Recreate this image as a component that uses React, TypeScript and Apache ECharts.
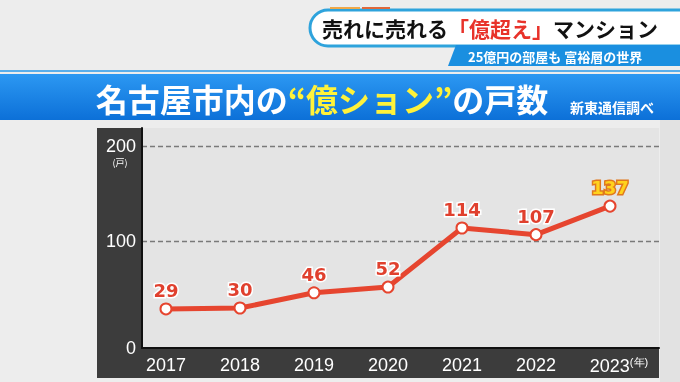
import React, { useEffect, useRef } from "react";
import * as echarts from "echarts";

const years = [2017, 2018, 2019, 2020, 2021, 2022, 2023];
const counts = [29, 30, 46, 52, 114, 107, 137];
const yTickValues = [100, 200];
const yMin = -12;
const yMax = 219;
const xMin = 2016.676;
const xMax = 2023.662;

const headline = "売れに売れる";
const headlineRed = "「億超え」";
const headlineTail = "マンション";
const subHeadline = "25億円の部屋も 富裕層の世界";
const titleA = "名古屋市内の";
const titleB = "“億ション”";
const titleC = "の戸数";
const source = "新東通信調べ";
const yUnit = "(戸)";
const xUnit = "(年)";

const CJK = '"Noto Sans CJK JP", "Noto Sans", sans-serif';

export default function App() {
  const ref = useRef<HTMLDivElement>(null);
  useEffect(() => {
    if (!ref.current) return;
    const chart = echarts.init(ref.current, null, { renderer: "svg" });
    const lastYear = years[years.length - 1];
    const data = years.map((y, i) => {
      const isLast = i === years.length - 1;
      return {
        value: [y, counts[i]],
        label: isLast
          ? { color: "#ffd21c", textBorderColor: "#e0781e", textBorderWidth: 3 }
          : undefined,
      };
    });
    chart.setOption({
      animation: false,
      graphic: [
        { type: "rect", shape: { x: 0, y: 0, width: 680, height: 382 }, style: { fill: "#ededed" }, z: -10 },
        { type: "rect", shape: { x: 660, y: 120, width: 20, height: 262 }, style: { fill: "#e2e2e2" }, z: -9 },
        // header
        {
          type: "rect",
          shape: { x: 310, y: 10, width: 390, height: 36, r: 18 },
          style: { fill: "#ffffff", stroke: "#2ea3dc", lineWidth: 3 },
          z: 1,
        },
        { type: "line", shape: { x1: 330, y1: 8, x2: 360, y2: 8 }, style: { stroke: "#f0a848", lineWidth: 2 }, z: 2 },
        { type: "line", shape: { x1: 362, y1: 8, x2: 390, y2: 8 }, style: { stroke: "#e0683a", lineWidth: 2 }, z: 2 },
        {
          type: "text",
          x: 322,
          y: 28,
          style: {
            text: `{k|${headline}}{r|${headlineRed}}{k|${headlineTail}}`,
            verticalAlign: "middle",
            rich: {
              k: { fontSize: 21, fontWeight: "bold", fill: "#111111", fontFamily: CJK },
              r: { fontSize: 21, fontWeight: "bold", fill: "#e8322a", fontFamily: CJK },
            },
          },
          z: 3,
        },
        {
          type: "polygon",
          shape: { points: [[456, 45], [680, 45], [680, 66], [448, 66]] },
          style: { fill: "#1a8fe0" },
          z: 2,
        },
        {
          type: "text",
          x: 468,
          y: 56,
          style: { text: subHeadline, fontSize: 13, fontWeight: "bold", fill: "#ffffff", fontFamily: CJK, verticalAlign: "middle" },
          z: 3,
        },
        // title bar
        { type: "rect", shape: { x: 0, y: 70, width: 680, height: 2 }, style: { fill: "#5aaeea" }, z: 1 },
        {
          type: "rect",
          shape: { x: 0, y: 74, width: 680, height: 46 },
          style: {
            fill: new echarts.graphic.LinearGradient(0, 0, 0, 1, [
              { offset: 0, color: "#2c98f2" },
              { offset: 1, color: "#0c70d8" },
            ]),
          },
          z: 1,
        },
        {
          type: "text",
          x: 322,
          y: 98,
          style: {
            text: `{w|${titleA}}{y|${titleB}}{w|${titleC}}`,
            align: "center",
            verticalAlign: "middle",
            rich: {
              w: { fontSize: 32, fontWeight: "bold", fill: "#ffffff", fontFamily: CJK },
              y: { fontSize: 32, fontWeight: "bold", fill: "#fff23a", fontFamily: CJK },
            },
          },
          z: 3,
        },
        {
          type: "text",
          x: 570,
          y: 107,
          style: { text: source, fontSize: 14, fontWeight: "bold", fill: "#ffffff", fontFamily: CJK, verticalAlign: "middle" },
          z: 3,
        },
        // chart panel
        { type: "rect", shape: { x: 97, y: 128, width: 562, height: 250 }, style: { fill: "#3c3c3c" }, z: -5 },
        { type: "rect", shape: { x: 142, y: 128, width: 517, height: 220 }, style: { fill: "#e4e4e4" }, z: -4 },
        {
          type: "text",
          x: 120,
          y: 162,
          style: { text: yUnit, fontSize: 9, fill: "#ffffff", fontFamily: CJK, align: "center", verticalAlign: "middle" },
          z: 3,
        },
      ],
      grid: { left: 142, right: 21, top: 128, bottom: 34 },
      xAxis: {
        type: "value",
        min: xMin,
        max: xMax,
        axisLine: { show: true, onZero: false, lineStyle: { color: "#111111", width: 2 } },
        axisTick: { show: false },
        splitLine: { show: false },
        axisLabel: {
          customValues: years,
          margin: 8,
          color: "#ffffff",
          fontSize: 18,
          fontFamily: '"Liberation Sans Narrow", "Liberation Sans", Arial, sans-serif',
          formatter: (v: number) => (v === lastYear ? `{p|}${v}{s|${xUnit}}` : String(v)),
          rich: {
            p: { width: 18 },
            s: { fontSize: 11, color: "#ffffff", padding: [0, 0, 9, 0] },
          },
        },
      },
      yAxis: {
        type: "value",
        min: yMin,
        max: yMax,
        axisLine: { show: true, lineStyle: { color: "#111111", width: 2 } },
        axisTick: { show: false, customValues: yTickValues },
        splitLine: { show: true, lineStyle: { color: "#7a7a7a", type: [5, 3], width: 1.3 } },
        axisLabel: {
          customValues: [yMin, ...yTickValues],
          margin: 6,
          color: "#ffffff",
          fontSize: 18,
          fontFamily: '"Liberation Sans", Arial, sans-serif',
          formatter: (v: number) => (v === yMin ? "0" : String(v)),
        },
      },
      series: [
        {
          type: "line",
          data,
          symbol: "circle",
          symbolSize: 11,
          lineStyle: { color: "#e6452f", width: 5 },
          itemStyle: { color: "#ffffff", borderColor: "#e6452f", borderWidth: 2 },
          label: {
            show: true,
            position: "top",
            distance: 3,
            formatter: (p: any) => String(p.value[1]),
            fontSize: 18,
            fontWeight: "bold",
            fontFamily: '"DejaVu Sans", Verdana, sans-serif',
            color: "#e0402e",
            textBorderColor: "#ffffff",
            textBorderWidth: 3,
          },
          z: 5,
        },
      ],
    });
    return () => chart.dispose();
  }, []);
  return (
    <div
      ref={ref}
      style={{ position: "fixed", left: 0, top: 0, width: 680, height: 382 }}
    />
  );
}
